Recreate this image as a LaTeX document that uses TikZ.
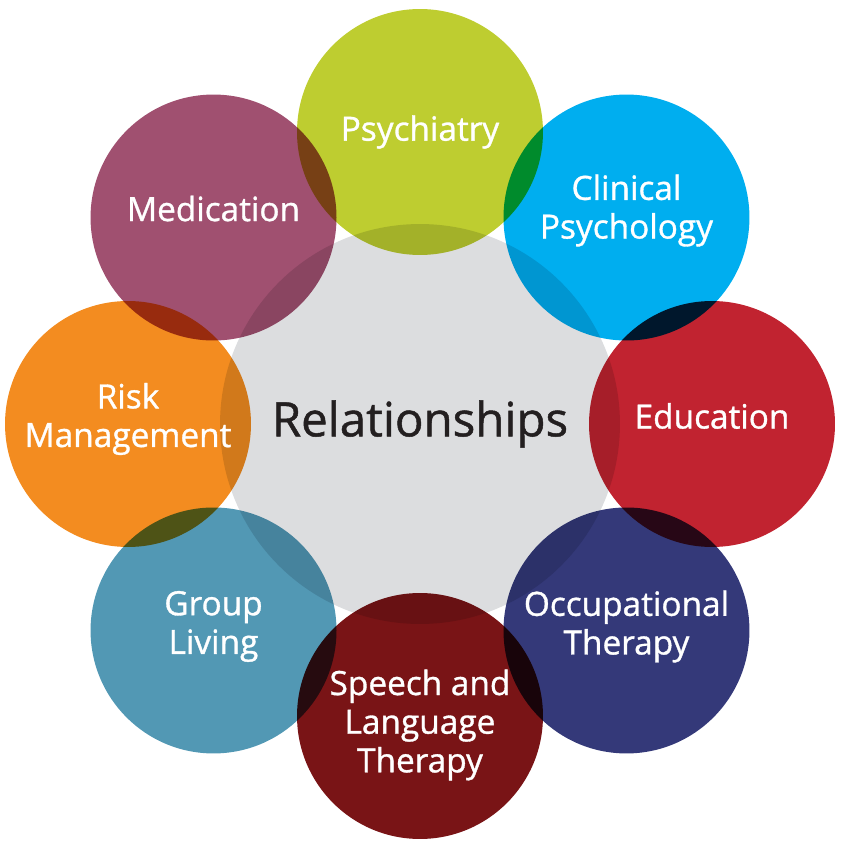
\documentclass[tikz,border=0pt]{standalone}
\usepackage{fontspec}
\setmainfont{Open Sans}
\newfontfamily\labelfont[FakeBold=1]{Open Sans}
\usetikzlibrary{positioning, calc}
\definecolor{hubgray}{RGB}{220,221,223}
\definecolor{hubtext}{RGB}{35,31,32}
\definecolor{psychgreen}{RGB}{190,205,48}
\definecolor{clinblue}{RGB}{0,174,239}
\definecolor{edured}{RGB}{193,35,48}
\definecolor{occnavy}{RGB}{52,57,121}
\definecolor{speechred}{RGB}{121,20,22}
\definecolor{groupteal}{RGB}{82,152,180}
\definecolor{riskorange}{RGB}{243,140,32}
\definecolor{medplum}{RGB}{160,80,112}

\begin{document}
\begin{tikzpicture}[x=0.02cm, y=0.02cm,
    petal/.style={circle, minimum size=4.92cm, inner sep=0pt},
    petaltext/.style={text=white, align=center, font=\labelfont\fontsize{19}{22}\selectfont}]
    \useasboundingbox (-420,-427) rectangle (420,424);

    % Central circle
    \node[circle, fill=hubgray, minimum size=8cm, inner sep=0pt] (hub) at (0,0) {};

    % Outer circles, multiplied over each other and the hub
    \begin{scope}[blend mode=multiply]
    \foreach \ang/\col/\nm in {90/psychgreen/psych, 45/clinblue/clin,
        0/edured/edu, -45/occnavy/occ, -90/speechred/speech,
        -135/groupteal/group, 180/riskorange/risk, 135/medplum/med} {
        \node[petal, fill=\col] (\nm) at ($(hub.center)+(\ang:292)$) {};
    }
    \end{scope}

    % Labels (\dy nudges each text up or down in its circle)
    \node[font=\labelfont\fontsize{27}{32}\selectfont, text=hubtext] (hublabel) at (hub) {Relationships};
    \foreach \nm/\dy/\txt in {psych/0/Psychiatry, clin/7/{Clinical\\Psychology},
        edu/8/Education, occ/4/{Occupational\\Therapy},
        speech/-9/{Speech and\\Language\\Therapy}, group/4/{Group\\Living},
        risk/5/{Risk\\Management}, med/9/Medication} {
        \node[petaltext] (\nm-label) at ($(\nm.center)+(0,\dy)$) {\txt};
    }

\end{tikzpicture}
\end{document}
